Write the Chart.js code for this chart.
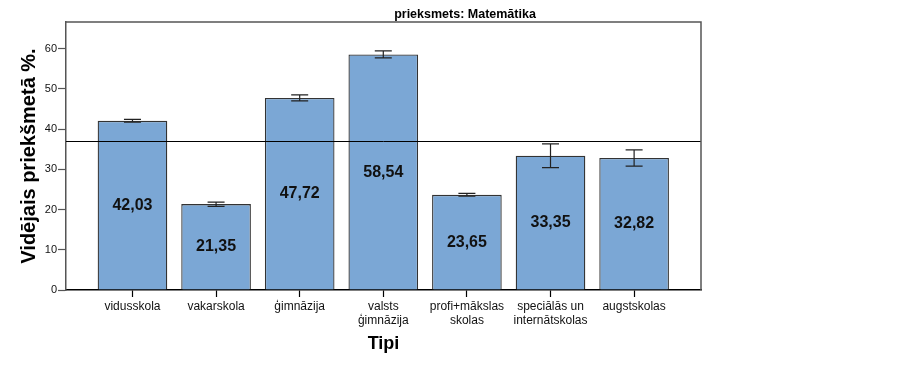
<!DOCTYPE html>
<html>
<head>
<meta charset="utf-8">
<script src="https://cdn.jsdelivr.net/npm/chart.js@4"></script>
<style>
    body { margin: 0; background: #fff; }
    canvas { display: block; }
</style>
</head>
<body>
<canvas id="chart" width="923" height="367"></canvas>
<script>
// Data
const categories = [
    ["vidusskola"],
    ["vakarskola"],
    ["ģimnāzija"],
    ["valsts", "ģimnāzija"],
    ["profi+mākslas", "skolas"],
    ["speciālās un", "internātskolas"],
    ["augstskolas"]
];
const means = [42.03, 21.35, 47.72, 58.54, 23.65, 33.35, 32.82];
const meanLabels = ["42,03", "21,35", "47,72", "58,54", "23,65", "33,35", "32,82"];
const errLow = [41.7, 20.8, 47.0, 57.7, 23.3, 30.4, 30.8];
const errHigh = [42.4, 21.85, 48.5, 59.4, 24.0, 36.3, 34.8];
const refLine = 37.0;
const yTicks = [0, 10, 20, 30, 40, 50, 60];

const FONT = "'Liberation Sans', Arial, sans-serif";

// Draws the reference line, error bars, value labels, frame and titles
const extrasPlugin = {
    id: "extras",
    afterDatasetsDraw(chart) {
        const ctx = chart.ctx;
        const x = chart.scales.x;
        const y = chart.scales.y;
        const area = chart.chartArea;
        ctx.save();

        // reference line
        ctx.strokeStyle = "#000";
        ctx.lineWidth = 1;
        ctx.beginPath();
        ctx.moveTo(area.left, Math.round(y.getPixelForValue(refLine)) + 0.5);
        ctx.lineTo(area.right, Math.round(y.getPixelForValue(refLine)) + 0.5);
        ctx.stroke();

        // error bars
        ctx.strokeStyle = "#222";
        ctx.lineWidth = 1.2;
        for (let i = 0; i < means.length; i++) {
            const cx = x.getPixelForValue(i);
            const top = y.getPixelForValue(errHigh[i]);
            const bottom = y.getPixelForValue(errLow[i]);
            ctx.beginPath();
            ctx.moveTo(cx, top);
            ctx.lineTo(cx, bottom);
            ctx.moveTo(cx - 8.5, top);
            ctx.lineTo(cx + 8.5, top);
            ctx.moveTo(cx - 8.5, bottom);
            ctx.lineTo(cx + 8.5, bottom);
            ctx.stroke();
        }

        // value labels in the middle of each bar
        ctx.fillStyle = "#111";
        ctx.font = "bold 16px " + FONT;
        ctx.textAlign = "center";
        ctx.textBaseline = "middle";
        for (let i = 0; i < means.length; i++) {
            ctx.fillText(meanLabels[i], x.getPixelForValue(i), y.getPixelForValue(means[i] / 2));
        }
        ctx.restore();
    },
    afterDraw(chart) {
        const ctx = chart.ctx;
        const area = chart.chartArea;
        ctx.save();

        // top and right side of the frame
        ctx.strokeStyle = "#555";
        ctx.lineWidth = 1.5;
        ctx.beginPath();
        ctx.moveTo(area.left, area.top);
        ctx.lineTo(area.right, area.top);
        ctx.lineTo(area.right, area.bottom);
        ctx.stroke();

        ctx.fillStyle = "#000";
        ctx.textAlign = "center";
        ctx.textBaseline = "middle";

        // title
        ctx.font = "bold 12.5px " + FONT;
        ctx.fillText("prieksmets: Matemātika", 465, 14.5);

        // x axis title
        ctx.font = "bold 18px " + FONT;
        ctx.fillText("Tipi", (area.left + area.right) / 2, 344);

        // y axis title
        ctx.font = "bold 20px " + FONT;
        ctx.translate(29, (area.top + area.bottom) / 2);
        ctx.rotate(-Math.PI / 2);
        ctx.fillText("Vidējais priekšmetā %.", 0, 0);
        ctx.restore();
    }
};

document.addEventListener("DOMContentLoaded", () => {
    const ctx = document.getElementById("chart").getContext("2d");

    new Chart(ctx, {
        type: "bar",
        data: {
            datasets: [
                {
                    data: means.map((v, i) => ({ x: i, y: v })),
                    backgroundColor: "#7BA7D5",
                    borderColor: "#333",
                    borderWidth: 1.3,
                    barPercentage: 0.833,
                    categoryPercentage: 1,
                },
            ],
        },
        options: {
            responsive: false,
            animation: false,
            layout: { padding: { top: 22, right: 222, left: 0, bottom: 0 } },
            plugins: {
                legend: { display: false },
                tooltip: { enabled: false },
            },
            scales: {
                x: {
                    type: "linear",
                    offset: false,
                    min: -0.795,
                    max: 6.8,
                    afterFit: (s) => { s.height = 77; },
                    afterBuildTicks: (s) => { s.ticks = categories.map((c, i) => ({ value: i })); },
                    ticks: {
                        stepSize: 1,
                        includeBounds: false,
                        autoSkip: false,
                        maxRotation: 0,
                        padding: 3,
                        color: "#111",
                        font: { family: FONT, size: 12, lineHeight: 1.17 },
                        callback: (v) => categories[v] || "",
                    },
                    grid: { offset: false, drawOnChartArea: false, tickLength: 7, tickColor: "#000", tickWidth: 1.2 },
                    border: { color: "#000", width: 1.5 },
                },
                y: {
                    min: 0,
                    max: 66.6,
                    afterFit: (s) => { s.width = 66; },
                    afterBuildTicks: (s) => { s.ticks = yTicks.map((v) => ({ value: v })); },
                    ticks: {
                        stepSize: 10,
                        includeBounds: false,
                        padding: 1,
                        color: "#111",
                        font: { family: FONT, size: 11 },
                    },
                    grid: { drawOnChartArea: false, tickLength: 8, tickColor: "#555", tickWidth: 1.2 },
                    border: { color: "#555", width: 1.5 },
                },
            },
        },
        plugins: [extrasPlugin],
    });
});
</script>
</body>
</html>
